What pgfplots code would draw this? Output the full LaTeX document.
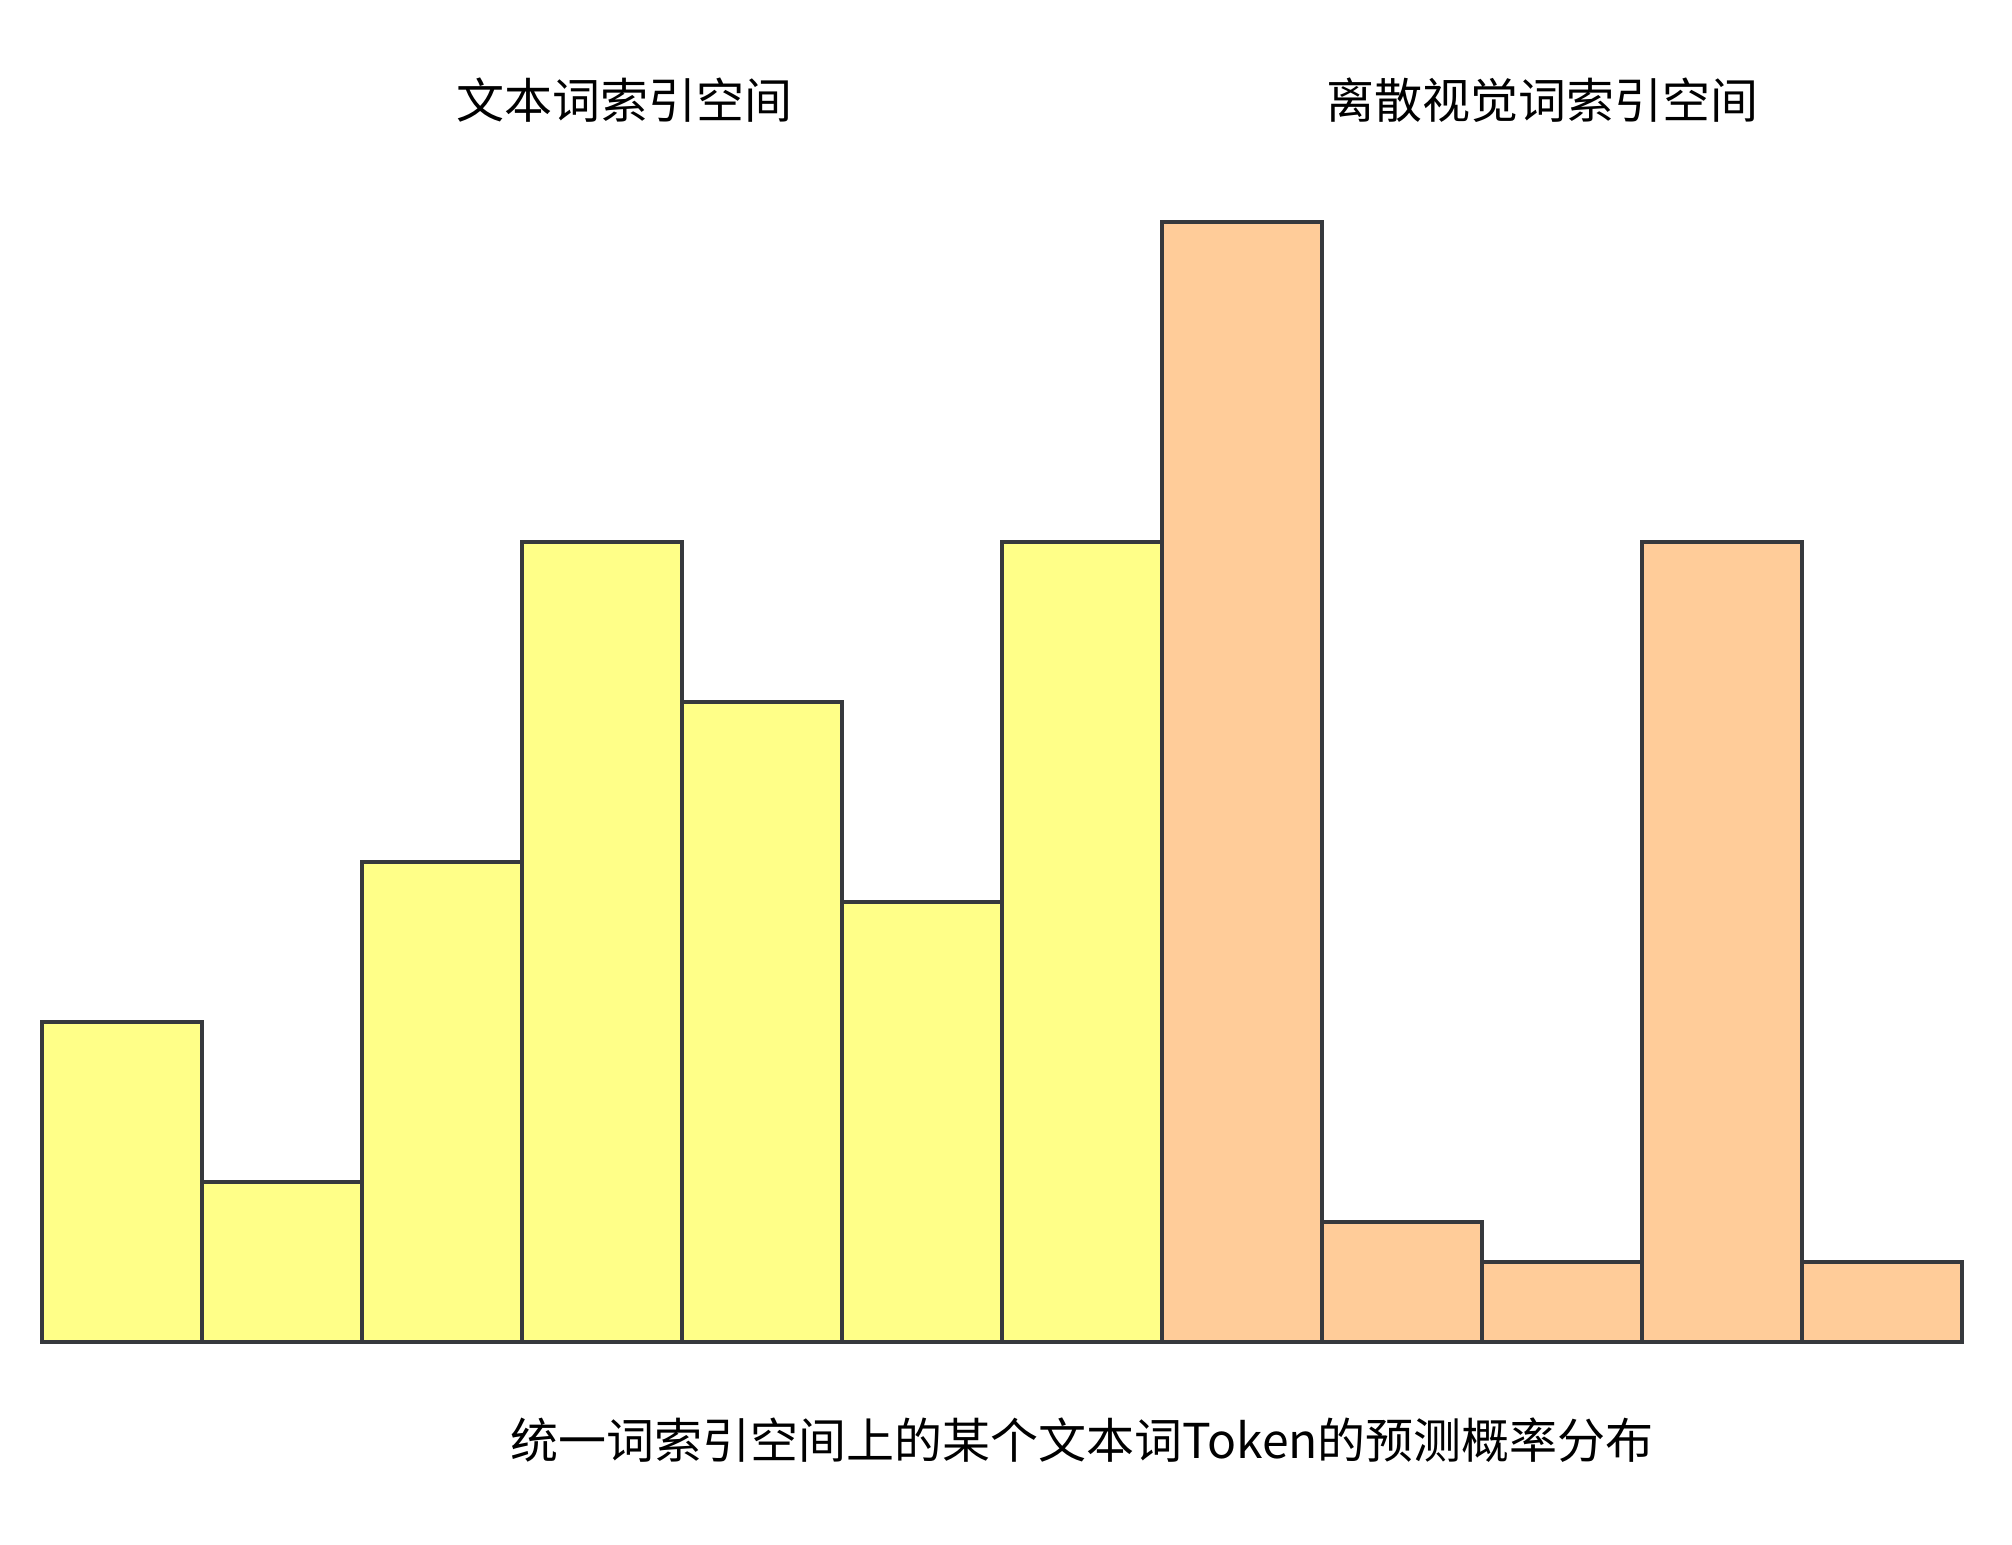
\documentclass[border=0pt]{standalone}
\usepackage{pgfplots}
\pgfplotsset{compat=1.18}
\usepackage{fontspec}
\setmainfont{Noto Sans CJK SC}
\definecolor{edgec}{HTML}{36393D}
\definecolor{yel}{HTML}{FFFF88}
\definecolor{ora}{HTML}{FFCC99}
\begin{document}
\begin{tikzpicture}
\path[use as bounding box] (0,0) rectangle (503pt,386pt);
\begin{axis}[
  at={(10.5pt,50.5pt)}, anchor=south west,
  scale only axis, width=480pt, height=280pt,
  xmin=0, xmax=12, ymin=0, ymax=28,
  hide axis, clip=false,
  ybar, bar width=1, bar shift=0,
]
\addplot[draw=edgec, fill=yel, line width=1pt] coordinates {
 (0.5,8) (1.5,4) (2.5,12) (3.5,20) (4.5,16) (5.5,11) (6.5,20)};
\addplot[draw=edgec, fill=ora, line width=1pt] coordinates {
 (7.5,28) (8.5,3) (9.5,2) (10.5,20) (11.5,2)};
\end{axis}
\node[font=\fontsize{12}{14}\selectfont, inner sep=0pt] at (156pt,361pt) {文本词索引空间};
\node[font=\fontsize{12}{14}\selectfont, inner sep=0pt] at (385.5pt,361pt) {离散视觉词索引空间};
\node[font=\fontsize{12}{14}\selectfont, inner sep=0pt] at (270.5pt,26pt) {统一词索引空间上的某个文本词Token的预测概率分布};
\end{tikzpicture}
\end{document}
